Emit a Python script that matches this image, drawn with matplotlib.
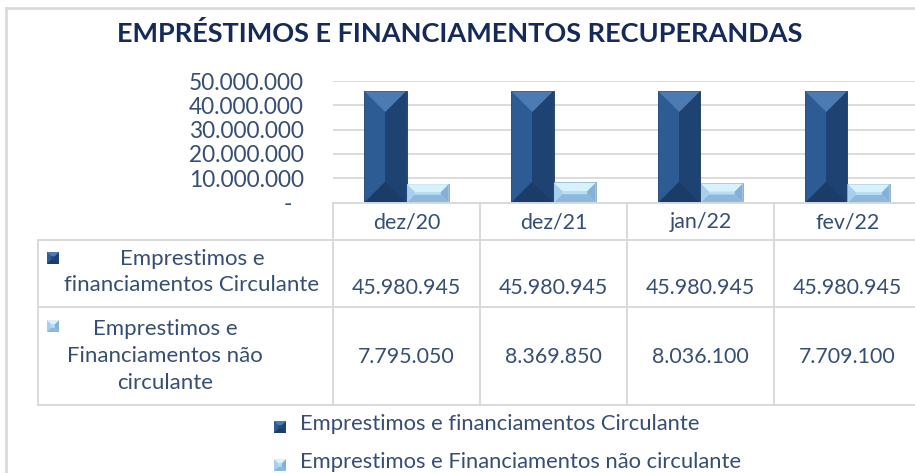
import numpy as np
import matplotlib
matplotlib.use("Agg")
import matplotlib.pyplot as plt
from matplotlib.patches import Polygon, Rectangle
from matplotlib.lines import Line2D
import matplotlib.transforms as mtransforms

# ---------------- data ----------------
categories = ["dez/20", "dez/21", "jan/22", "fev/22"]
circulante = [45980945, 45980945, 45980945, 45980945]
nao_circulante = [7795050, 8369850, 8036100, 7709100]
series_names = ["Emprestimos e financiamentos Circulante",
                "Emprestimos e Financiamentos não circulante"]
row_labels = ["Emprestimos e\nfinanciamentos Circulante",
              "Emprestimos e\nFinanciamentos não\ncirculante"]
title = "EMPRÉSTIMOS E FINANCIAMENTOS RECUPERANDAS"
yticks = [0, 10000000, 20000000, 30000000, 40000000, 50000000]

# ---------------- style ----------------
W, H = 915, 473
FONT = "Lato"
TXT = "#364E74"
TITLE_C = "#15295A"
GRID = "#D9D9D9"
DARK = dict(face="#24497B", top="#4C7BB3", left="#2D5B93", right="#1E4272",
            bottom="#1B3C69", edge="#1A365E")
LIGHT = dict(face="#B6DEF4", top="#D8F2FD", left="#A7D0EE", right="#86B0D6",
             bottom="#8EB8DB", edge="#7FA8CC")

plt.rcParams['font.family'] = [FONT, 'DejaVu Sans']

fig = plt.figure(figsize=(W / 100, H / 100), dpi=100)
fig.patch.set_facecolor("white")


def fx(x):
    return x / W


def fy(y):
    return 1 - y / H


# outer frame
fig.add_artist(Line2D([fx(6), fx(6)], [fy(8), fy(H + 5)], color=GRID, lw=1.9,
                      transform=fig.transFigure))
fig.add_artist(Line2D([fx(6), fx(W + 5)], [fy(8), fy(8)], color=GRID, lw=1.9,
                      transform=fig.transFigure))

# title
fig.text(fx(460), fy(34), title, ha="center", va="center", fontsize=19.5,
         fontweight="bold", color=TITLE_C)

# axes
ax_left, ax_right, ax_top, ax_bot = 333, 921, 81, 202.5
ax = fig.add_axes([fx(ax_left), fy(ax_bot), (ax_right - ax_left) / W,
                   (ax_bot - ax_top) / H])
ax.set_xlim(-0.5, len(categories) - 0.5)
ax.set_ylim(0, 50000000)
for s in ax.spines.values():
    s.set_visible(False)
ax.set_xticks([])
ax.set_yticks(yticks)


def fmt(v):
    if v == 0:
        return "-  "
    return f"{int(v):,}".replace(",", ".")


ax.set_yticklabels([fmt(v) for v in yticks])
ax.tick_params(axis="y", length=0, pad=21, labelsize=16.3, labelcolor=TXT)
for v in yticks[1:]:
    ax.axhline(v, color=GRID, lw=1.3, zorder=0)

x = np.arange(len(categories))
w = 0.29
b1 = ax.bar(x - w / 2, circulante, w, color=DARK["face"], edgecolor=DARK["edge"],
            lw=0.6, zorder=2)
b2 = ax.bar(x + w / 2, nao_circulante, w, color=LIGHT["face"],
            edgecolor=LIGHT["edge"], lw=0.6, zorder=2)

fig.canvas.draw()
inv = ax.transData.inverted()


def bevel_polys(x0, y0, x1, y1, b):
    # display coords, y0 bottom, y1 top
    return {
        "top": [(x0, y1), (x1, y1), (x1 - b, y1 - b), (x0 + b, y1 - b)],
        "bottom": [(x0, y0), (x1, y0), (x1 - b, y0 + b), (x0 + b, y0 + b)],
        "left": [(x0, y0), (x0, y1), (x0 + b, y1 - b), (x0 + b, y0 + b)],
        "right": [(x1, y0), (x1, y1), (x1 - b, y1 - b), (x1 - b, y0 + b)],
    }


def draw_bevel_rect(target, disp_to_target, x0, y0, x1, y1, cols, z):
    wd, ht = x1 - x0, y1 - y0
    b = min(wd / 2, ht * 0.42)
    polys = bevel_polys(x0, y0, x1, y1, b)
    for k in ["left", "right", "bottom", "top"]:
        pts = disp_to_target(np.array(polys[k]))
        target.add_patch(Polygon(pts, closed=True, facecolor=cols[k],
                                 edgecolor="none", zorder=z))


for bars, cols in [(b1, DARK), (b2, LIGHT)]:
    for r in bars:
        (x0, y0), (x1, y1) = ax.transData.transform(
            [(r.get_x(), 0), (r.get_x() + r.get_width(), r.get_height())])
        draw_bevel_rect(ax, inv.transform, x0 + 0.6, y0, x1 - 0.6, y1 - 0.6,
                        cols, 3)

# ---------------- table ----------------
tcol = dict(color=GRID, lw=1.4, transform=fig.transFigure, zorder=1)
edges_disp = ax.transData.transform([(e, 0) for e in np.arange(len(categories) + 1) - 0.5])
edges_fig = fig.transFigure.inverted().transform(edges_disp)[:, 0]

row_y = [203, 240, 307, 405]
fig.add_artist(Line2D([edges_fig[0], 1.01], [fy(row_y[0])] * 2, **tcol))
for yy in row_y[1:]:
    fig.add_artist(Line2D([fx(38), 1.01], [fy(yy)] * 2, **tcol))
fig.add_artist(Line2D([fx(38), fx(38)], [fy(row_y[1]), fy(row_y[3])], **tcol))
for ex in edges_fig[:-1]:
    fig.add_artist(Line2D([ex, ex], [fy(row_y[0]), fy(row_y[3])], **tcol))

blend = mtransforms.blended_transform_factory(ax.transData, fig.transFigure)
TFS = 15.4
for i, c in enumerate(categories):
    ax.text(i, fy(222), c, transform=blend, ha="center", va="center",
            fontsize=TFS, color=TXT, clip_on=False)
    ax.text(i, fy(288), fmt(circulante[i]), transform=blend, ha="center",
            va="center", fontsize=TFS, color=TXT, clip_on=False)
    ax.text(i, fy(357), fmt(nao_circulante[i]), transform=blend, ha="center",
            va="center", fontsize=TFS, color=TXT, clip_on=False)

fig.text(fx(192), fy(272), row_labels[0], ha="center", va="center",
         multialignment="center", fontsize=16, color=TXT, linespacing=1.42)
fig.text(fx(165), fy(356), row_labels[1], ha="center", va="center",
         multialignment="center", fontsize=16, color=TXT, linespacing=1.42)

fig_inv = fig.transFigure.inverted()


def marker(cx, cy, cols, size=12):
    x0, y1 = cx - size / 2, H - (cy - size / 2)
    x1, y0 = cx + size / 2, H - (cy + size / 2)
    fig.add_artist(Rectangle(fig_inv.transform((x0, y0)), size / W, size / H,
                             transform=fig.transFigure, facecolor=cols["face"],
                             edgecolor="none"))
    b = size * 0.35
    polys = bevel_polys(x0, y0, x1, y1, b)
    for k in ["left", "right", "bottom", "top"]:
        fig.add_artist(Polygon(fig_inv.transform(np.array(polys[k])),
                               closed=True, facecolor=cols[k], edgecolor="none",
                               transform=fig.transFigure))


marker(53, 258, DARK)
marker(53, 326, LIGHT)

# ---------------- legend ----------------
marker(280, 427, DARK)
marker(280, 465, LIGHT)
fig.text(fx(300), fy(424), series_names[0], ha="left", va="center",
         fontsize=15.8, color=TXT)
fig.text(fx(300), fy(462), series_names[1], ha="left", va="center",
         fontsize=15.8, color=TXT)

fig.savefig("out.png", dpi=100, facecolor="white")
